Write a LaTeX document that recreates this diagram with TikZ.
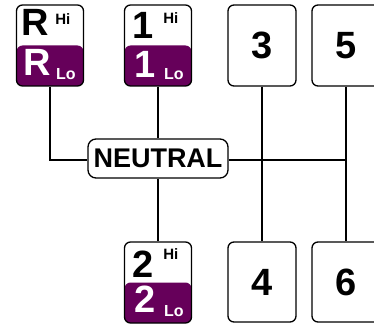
\documentclass[tikz,border=0pt]{standalone}
\usepackage{fontspec}
\setmainfont{Liberation Sans}
\definecolor{gearpurple}{RGB}{102,0,90}
\tikzset{
  gearbox/.style={draw=black, line width=1.3pt, rounded corners=6pt, minimum width=67pt, minimum height=81pt, inner sep=0pt, fill=white, font=\fontsize{38pt}{38pt}\selectfont\bfseries},
  splitgear/.style={gearbox, path picture={\fill[gearpurple] (path picture bounding box.west) rectangle (path picture bounding box.south east);}},
  bigup/.style={anchor=base, inner sep=0pt, font=\fontsize{38pt}{38pt}\selectfont\bfseries, text=black},
  biglo/.style={anchor=base, inner sep=0pt, font=\fontsize{38pt}{38pt}\selectfont\bfseries, text=white},
  hitxt/.style={anchor=base, inner sep=0pt, font=\fontsize{15pt}{16pt}\selectfont\bfseries, text=black},
  lotxt/.style={anchor=base, inner sep=0pt, font=\fontsize{16pt}{16pt}\selectfont\bfseries, text=white},
  neutralbox/.style={draw=black, line width=1.3pt, rounded corners=8pt, minimum width=140pt, minimum height=39pt, inner sep=0pt, fill=white, font=\fontsize{27pt}{28pt}\selectfont\bfseries},
  wire/.style={line width=2pt, draw=black}
}
% #1 name, #2 centre, #3 label, #4 upper baseline, #5 lower baseline, #6 Hi baseline
\newcommand\gearsplit[6]{%
  \node[splitgear] (#1) at (#2) {};
  \node[bigup] (#1u) at ([shift={(19,#4)}]#1.north west) {#3};
  \node[hitxt] (#1h) at ([shift={(47,#6)}]#1.north west) {Hi};
  \node[biglo] (#1l) at ([shift={(21.5,#5)}]#1.north west) {#3};
  \node[lotxt] (#1o) at ([shift={(50,75)}]#1.north west) {Lo};
}
\begin{document}
\begin{tikzpicture}[x=1pt,y=-1pt]
\useasboundingbox (0,0) rectangle (374,326);
\clip (0,0) rectangle (374,326);
% boxes
\gearsplit{gR}{50,45.5}{R}{31.5}{71.5}{20.5}
\gearsplit{gA}{158,45.5}{1}{34}{73.5}{19.5}
\gearsplit{gB}{158,282.5}{2}{36.5}{71.5}{18.5}
\node[gearbox, minimum width=68pt] (g3) at (262,45.5) {3};
\node[gearbox, minimum width=68pt] (g5) at (346,45.5) {5};
\node[gearbox, minimum width=68pt, minimum height=80pt] (g4) at (262,282) {4};
\node[gearbox, minimum width=68pt, minimum height=80pt] (g6) at (346,282) {6};
\node[neutralbox] (N) at (158,158.5) {NEUTRAL};
% connectors
\coordinate (hR) at (gR.south |- 0,160);
\coordinate (h5) at (g5.south |- 0,160);
\draw[wire] (gR.south) -- (hR) -- (N.west |- hR);
\draw[wire] (N.east |- hR) -- (h5);
\draw[wire] (gA.south) -- (N.north);
\draw[wire] (N.south) -- (gB.north);
\draw[wire] (g3.south) -- (g4.north);
\draw[wire] (g5.south) -- (g6.north);
\end{tikzpicture}
\end{document}
